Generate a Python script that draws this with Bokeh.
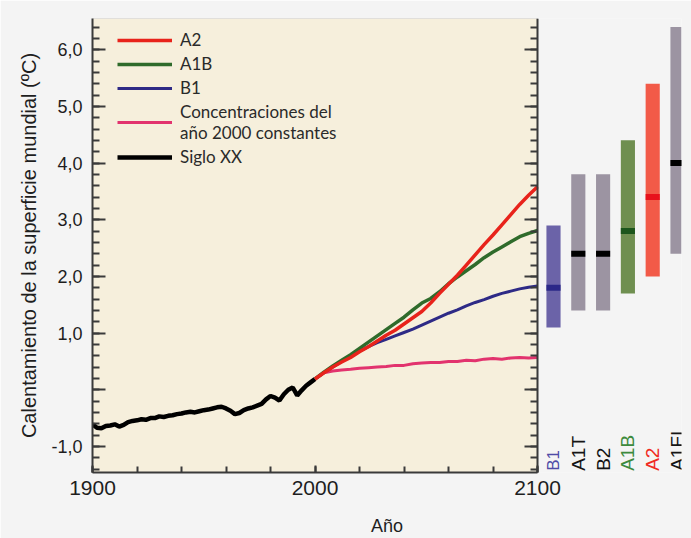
import numpy as np
from bokeh.plotting import figure
from bokeh.models import (Range1d, LinearAxis, BoxAnnotation, Legend, LegendItem,
                          FixedTicker, ColumnDataSource)
from bokeh.embed import file_html
from bokeh.resources import INLINE
from bokeh.core.properties import value

# ---------------- data ----------------
hist_years = list(range(1900, 2001, 2))
hist_temp = [-0.61, -0.67, -0.68, -0.64, -0.63, -0.61, -0.65, -0.62, -0.57, -0.55,
             -0.54, -0.52, -0.53, -0.50, -0.50, -0.47, -0.48, -0.46, -0.45, -0.43,
             -0.42, -0.40, -0.39, -0.40, -0.38, -0.36, -0.35, -0.33, -0.31, -0.30,
             -0.33, -0.37, -0.43, -0.41, -0.36, -0.33, -0.31, -0.28, -0.25, -0.17,
             -0.11, -0.14, -0.19, -0.08, 0.00, 0.04, -0.10, -0.01, 0.07, 0.13, 0.19]

proj_years = list(range(2000, 2101, 4))
a2 = [0.19, 0.30, 0.40, 0.49, 0.57, 0.67, 0.76, 0.86, 0.96, 1.05, 1.16, 1.27, 1.38,
      1.53, 1.70, 1.86, 2.02, 2.20, 2.38, 2.56, 2.73, 2.91, 3.09, 3.27, 3.43, 3.58]
a1b = [0.19, 0.31, 0.42, 0.52, 0.62, 0.73, 0.84, 0.95, 1.06, 1.17, 1.28, 1.41, 1.53,
       1.61, 1.73, 1.87, 1.99, 2.10, 2.21, 2.33, 2.43, 2.52, 2.61, 2.70, 2.76, 2.81]
b1 = [0.19, 0.30, 0.40, 0.50, 0.59, 0.68, 0.76, 0.83, 0.89, 0.95, 1.01, 1.07, 1.14,
      1.21, 1.28, 1.35, 1.41, 1.48, 1.54, 1.59, 1.65, 1.70, 1.74, 1.78, 1.81, 1.83]
const2000 = [0.19, 0.30, 0.33, 0.35, 0.36, 0.38, 0.39, 0.40, 0.41, 0.43, 0.43, 0.46, 0.47,
             0.48, 0.48, 0.50, 0.50, 0.52, 0.51, 0.54, 0.55, 0.54, 0.56, 0.57, 0.56, 0.57]

scenarios = ["B1", "A1T", "B2", "A1B", "A2", "A1FI"]
range_low = [1.1, 1.4, 1.4, 1.7, 2.0, 2.4]
range_high = [2.9, 3.8, 3.8, 4.4, 5.4, 6.4]
best_est = [1.8, 2.4, 2.4, 2.8, 3.4, 4.0]

y_ticks = [-1, 0, 1, 2, 3, 4, 5, 6]
y_tick_labels = ["-1,0", "", "1,0", "2,0", "3,0", "4,0", "5,0", "6,0"]
x_ticks = [1900, 2000, 2100]

legend_labels = ["A2", "A1B", "B1", "Concentraciones del\naño 2000 constantes", "Siglo XX"]

# ---------------- styling ----------------
PAGE = "#f4f4f4"
CREAM = "#f6efdc"
AXIS = "#3a3a3a"
C_A2 = "#e8231b"
C_A1B = "#2f6b2b"
C_B1 = "#2e2a86"
C_CONST = "#e2336e"
bar_fill = ["#6b63a8", "#9c94a2", "#9c94a2", "#6f8f50", "#f25a48", "#9c94a2"]
mark_fill = ["#2b2888", "#000000", "#000000", "#1c561c", "#e8121c", "#000000"]
lab_color = ["#4f4ba6", "#151515", "#151515", "#3d8a3d", "#f02a22", "#151515"]
lab_size = ["17px", "19px", "19px", "19px", "19px", "19px"]

W, H = 691, 538
BL, BR, BT, BB = 92, 10, 18, 64
frame_w = W - BL - BR
px_per_year = 445.0 / 200.0
x_end = 1900 + frame_w / px_per_year
bar_step = 24.8
bar_start = -(553 - BL) / bar_step
bar_end = bar_start + frame_w / bar_step

p = figure(width=W, height=H, x_range=Range1d(1900, x_end), y_range=Range1d(-1.46, 6.55),
           output_backend="svg", toolbar_location=None,
           min_border_left=BL, min_border_right=BR, min_border_top=BT, min_border_bottom=BB,
           background_fill_color=PAGE, border_fill_color=PAGE, outline_line_color=None)
p.extra_x_ranges = {"bars": Range1d(bar_start, bar_end)}
p.grid.grid_line_color = None

p.add_layout(BoxAnnotation(left=1900, right=2100, fill_color=CREAM, fill_alpha=1.0,
                           line_color="#6a6a6a", line_width=1.2, level="underlay"))

# axes
xa = p.xaxis[0]
xa.ticker = FixedTicker(ticks=x_ticks, minor_ticks=list(range(1900, 2101, 20)))
xa.bounds = (1900, 2100)
xa.axis_label = "Año"
xa.major_tick_in = 7
xa.major_tick_out = 0
xa.minor_tick_in = 6
xa.minor_tick_out = 0
xa.major_label_text_font_size = "21px"
xa.major_label_standoff = 8
xa.axis_label_standoff = 18

ya = p.yaxis[0]
yt = FixedTicker(ticks=y_ticks, minor_ticks=[round(v, 1) for v in np.arange(-1.4, 6.45, 0.2)])
ya.ticker = yt
ya.major_label_overrides = {t: l for t, l in zip(y_ticks, y_tick_labels)}
ya.axis_label = "Calentamiento de la superficie mundial (ºC)"
ya.major_label_text_font_size = "18px"
ya.major_label_standoff = 10
ya.axis_label_standoff = 8

ra = LinearAxis(fixed_location=2100, ticker=yt,
                major_label_overrides={t: "" for t in y_ticks})
p.add_layout(ra, "right")

for ax in [xa, ya, ra]:
    ax.axis_line_color = AXIS
    ax.axis_line_width = 2
    ax.major_tick_line_color = AXIS
    ax.minor_tick_line_color = AXIS
    ax.major_tick_line_width = 2
    ax.minor_tick_line_width = 2
    ax.major_label_text_font = "Liberation Sans"
    ax.major_label_text_color = "#1e1e1e"
    ax.axis_label_text_font = "Liberation Sans"
    ax.axis_label_text_font_style = "normal"
    ax.axis_label_text_color = "#1e1e1e"
for ax in [ya, ra]:
    ax.major_tick_in = 13
    ax.major_tick_out = 0
    ax.minor_tick_in = 7
    ax.minor_tick_out = 0
ra.major_label_standoff = 0
ya.axis_label_text_font_size = "20px"
xa.axis_label_text_font_size = "18px"

# lines
r_hist = p.line(hist_years, hist_temp, line_color="#000000", line_width=4.5)
r_const = p.line(proj_years, const2000, line_color=C_CONST, line_width=3)
r_b1 = p.line(proj_years, b1, line_color=C_B1, line_width=3)
r_a1b = p.line(proj_years, a1b, line_color=C_A1B, line_width=3.5)
r_a2 = p.line(proj_years, a2, line_color=C_A2, line_width=3.5)

legend = Legend(items=[LegendItem(label=legend_labels[0], renderers=[r_a2]),
                       LegendItem(label=legend_labels[1], renderers=[r_a1b]),
                       LegendItem(label=legend_labels[2], renderers=[r_b1]),
                       LegendItem(label=legend_labels[3], renderers=[r_const]),
                       LegendItem(label=legend_labels[4], renderers=[r_hist])],
                location=(25, 305), glyph_width=55, glyph_height=20, label_standoff=8,
                label_height=20, spacing=3, padding=0, margin=0,
                label_text_font="Lato", label_text_font_size="17px", label_text_color="#2a2a2a",
                background_fill_alpha=0, border_line_color=None)
p.add_layout(legend)

# scenario bars
src = ColumnDataSource(dict(idx=list(range(len(scenarios))), name=scenarios, lo=range_low,
                            hi=range_high, best=best_est, bc=bar_fill, mc=mark_fill,
                            tc=lab_color, fs=lab_size))
p.vbar(x="idx", bottom="lo", top="hi", width=0.57, fill_color="bc", line_color=None,
       source=src, x_range_name="bars")
p.rect(x="idx", y="best", width=0.57, height=6, height_units="screen", fill_color="mc",
       line_color=None, source=src, x_range_name="bars")
p.text(x="idx", y=-1.43, text="name", angle=np.pi / 2, text_align="left",
       text_baseline="middle", text_color="tc", text_font_size="fs",
       text_font=value("Liberation Sans"), source=src, x_range_name="bars")

open("out.html", "w").write(file_html(p, INLINE))
